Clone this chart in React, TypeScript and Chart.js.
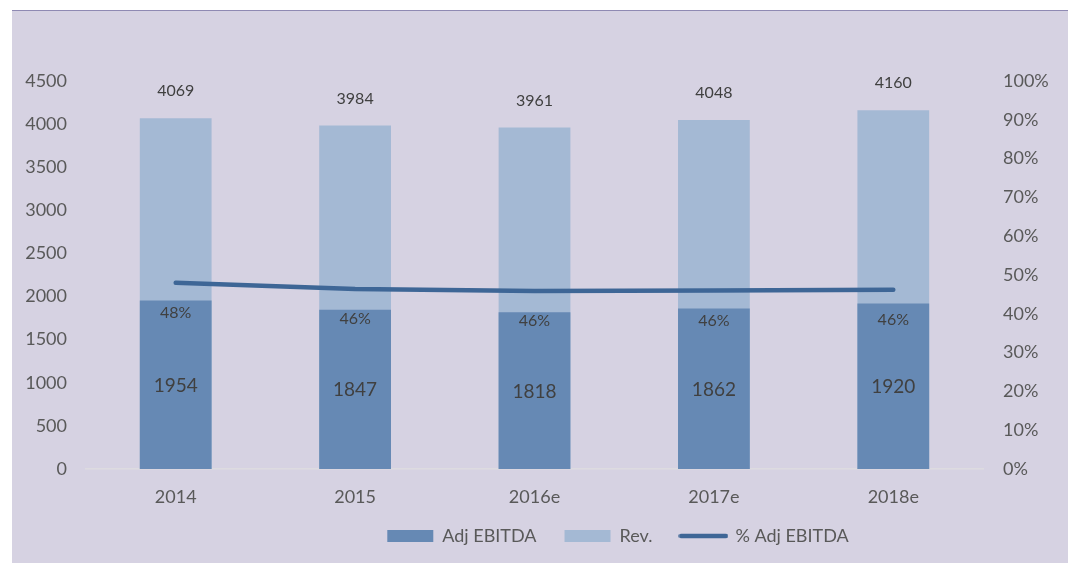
import React, { useEffect, useRef } from "react";
import { Chart, registerables } from "chart.js";

Chart.register(...registerables);

const categories = ["2014", "2015", "2016e", "2017e", "2018e"];
const adjEbitda = [1954, 1847, 1818, 1862, 1920];
const revenue = [4069, 3984, 3961, 4048, 4160];
const adjEbitdaPct = [48.0, 46.4, 45.9, 46.0, 46.2];

const leftMax = 4500;
const leftStep = 500;
const rightMax = 100;
const rightStep = 10;

const FONT = "Lato";
const LEGEND_SHIFT = 78;
const LEGEND_TOP = 488;
const LINE_COLOR = "#3e6696";

const dataLabels = {
  id: "dataLabels",
  afterDatasetsDraw(chart: any) {
    const ctx = chart.ctx;
    ctx.save();
    ctx.fillStyle = "#404040";
    ctx.textAlign = "center";
    ctx.textBaseline = "middle";
    const mE = chart.getDatasetMeta(0);
    ctx.font = `19px ${FONT}`;
    mE.data.forEach((bar: any, i: number) => {
      ctx.fillText(String(adjEbitda[i]), bar.x, (bar.y + bar.base) / 2 + 1);
    });
    const mR = chart.getDatasetMeta(1);
    ctx.font = `16px ${FONT}`;
    mR.data.forEach((bar: any, i: number) => {
      ctx.fillText(String(revenue[i]), bar.x, bar.y - 27);
    });
    const mP = chart.getDatasetMeta(2);
    mP.data.forEach((pt: any, i: number) => {
      ctx.fillText(Math.round(adjEbitdaPct[i]) + "%", pt.x, pt.y + 30);
    });
    ctx.restore();
  },
};

const legendPlace = {
  id: "legendPlace",
  afterLayout(chart: any) {
    const lg = chart.legend;
    if (lg) {
      const h = lg.height;
      lg.left += LEGEND_SHIFT;
      lg.right += LEGEND_SHIFT;
      lg.top = LEGEND_TOP;
      lg.bottom = LEGEND_TOP + h;
    }
  },
};

function makeLineSwatch(): HTMLCanvasElement {
  const c = document.createElement("canvas");
  c.width = 50;
  c.height = 12;
  const g = c.getContext("2d");
  if (g) {
    g.strokeStyle = LINE_COLOR;
    g.lineWidth = 4.5;
    g.lineCap = "round";
    g.beginPath();
    g.moveTo(2.5, 6);
    g.lineTo(47.5, 6);
    g.stroke();
  }
  return c;
}

export default function App() {
  const ref = useRef<HTMLCanvasElement | null>(null);

  useEffect(() => {
    if (!ref.current) return;
    const swatch = makeLineSwatch();
    const chart = new Chart(ref.current, {
      type: "bar",
      data: {
        labels: categories,
        datasets: [
          {
            type: "bar",
            label: "Adj EBITDA",
            data: adjEbitda,
            backgroundColor: "#6689b4",
            borderWidth: 0,
            grouped: false,
            order: 1,
            yAxisID: "y",
            categoryPercentage: 1,
            barPercentage: 0.4,
          } as any,
          {
            type: "bar",
            label: "Rev.",
            data: revenue,
            backgroundColor: "#a4b9d4",
            borderWidth: 0,
            grouped: false,
            order: 2,
            yAxisID: "y",
            categoryPercentage: 1,
            barPercentage: 0.4,
          } as any,
          {
            type: "line",
            label: "% Adj EBITDA",
            data: adjEbitdaPct,
            borderColor: LINE_COLOR,
            backgroundColor: LINE_COLOR,
            borderWidth: 4.5,
            borderCapStyle: "round",
            borderJoinStyle: "round",
            pointRadius: 0,
            tension: 0,
            order: 0,
            yAxisID: "y1",
          } as any,
        ],
      },
      options: {
        responsive: false,
        animation: false,
        layout: { padding: { top: 70, left: 0, right: 0, bottom: 0 } },
        scales: {
          x: {
            offset: true,
            grid: { display: true, color: "rgba(0,0,0,0)", drawTicks: false },
            border: { display: true, color: "#dddbe0", width: 1.5 },
            ticks: {
              color: "#595959",
              font: { family: FONT, size: 18 },
              padding: 17,
              maxRotation: 0,
            },
            afterFit: (s: any) => {
              s.height = 40;
            },
          },
          y: {
            position: "left",
            min: 0,
            max: leftMax,
            grid: { display: false, drawTicks: false },
            border: { display: false },
            ticks: {
              stepSize: leftStep,
              color: "#595959",
              font: { family: FONT, size: 18 },
              padding: 19,
              callback: (v: any) => String(v),
            },
            afterFit: (s: any) => {
              s.width = 74;
            },
          },
          y1: {
            position: "right",
            min: 0,
            max: rightMax,
            grid: { display: false, drawTicks: false },
            border: { display: false },
            ticks: {
              stepSize: rightStep,
              color: "#595959",
              font: { family: FONT, size: 18 },
              padding: 20,
              callback: (v: any) => v + "%",
            },
            afterFit: (s: any) => {
              s.width = 85;
            },
          },
        },
        plugins: {
          legend: {
            display: true,
            position: "bottom",
            labels: {
              color: "#595959",
              font: { family: FONT, size: 18 },
              usePointStyle: true,
              pointStyleWidth: 46,
              boxWidth: 46,
              boxHeight: 12,
              padding: 28,
              sort: (a: any, b: any) => a.datasetIndex - b.datasetIndex,
              generateLabels: (chart: any) => {
                const items = (Chart as any).defaults.plugins.legend.labels.generateLabels(chart);
                return items.map((it: any) => {
                  if (it.datasetIndex === 2) {
                    return { ...it, pointStyle: swatch, lineWidth: 0 };
                  }
                  return { ...it, pointStyle: "rect", lineWidth: 0 };
                });
              },
            },
          },
          tooltip: { enabled: false },
        },
      },
      plugins: [dataLabels, legendPlace],
    });
    return () => chart.destroy();
  }, []);

  return (
    <div
      style={{
        position: "fixed",
        left: 0,
        top: 0,
        width: 1072,
        height: 563,
        background: "#ffffff",
        overflow: "hidden",
      }}
    >
      <div
        style={{
          position: "absolute",
          left: 12,
          top: 10,
          width: 1056,
          height: 553,
          background: "#d6d2e2",
          borderTop: "1px solid #8f8ab3",
          overflow: "hidden",
        }}
      >
        <canvas ref={ref} width={1056} height={554} style={{ display: "block" }} />
      </div>
    </div>
  );
}
